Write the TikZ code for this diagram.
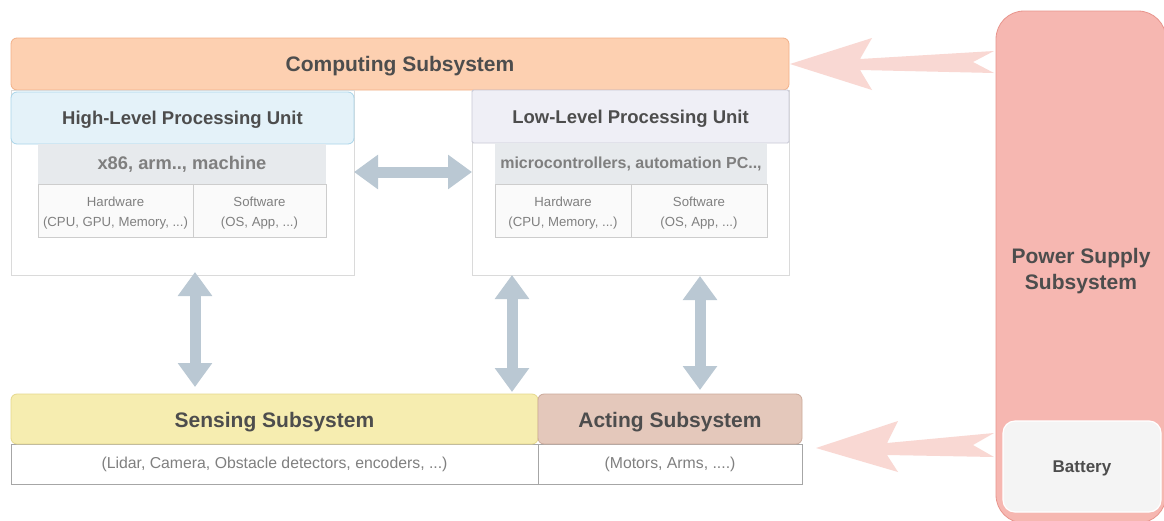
\documentclass[tikz,border=0pt]{standalone}
\usepackage{fontspec}
\setmainfont{Liberation Sans}
\usetikzlibrary{arrows.meta,calc}
\definecolor{compfill}{HTML}{FDD0B1}
\definecolor{compline}{HTML}{F2B088}
\definecolor{hlfill}{HTML}{E4F2F9}
\definecolor{hlline}{HTML}{A9D5EA}
\definecolor{llfill}{HTML}{EFEFF6}
\definecolor{llline}{HTML}{C9C9D6}
\definecolor{bandfill}{HTML}{E7EAED}
\definecolor{cellfill}{HTML}{FAFAFA}
\definecolor{cellline}{HTML}{CDCDCD}
\definecolor{outline}{HTML}{DADADA}
\definecolor{arrowcol}{HTML}{BAC8D3}
\definecolor{sensfill}{HTML}{F6EDB0}
\definecolor{sensline}{HTML}{E5D88C}
\definecolor{actfill}{HTML}{E4C8BB}
\definecolor{actline}{HTML}{CBA99A}
\definecolor{bodyline}{HTML}{A6A6A6}
\definecolor{powfill}{HTML}{F6B7B1}
\definecolor{powline}{HTML}{E8958D}
\definecolor{batfill}{HTML}{F4F4F4}
\definecolor{pinkar}{HTML}{F9D8D3}
\definecolor{titlecol}{HTML}{4D4D4D}
\definecolor{bandtext}{HTML}{7F7F7F}
\definecolor{celltext}{HTML}{808080}
\begin{document}
\begin{tikzpicture}[x=1pt,y=-1pt,
  box/.style={draw, line width=0.8pt, inner sep=0pt, outer sep=0pt, anchor=north west},
  txt/.style={inner sep=0pt, align=center},
  title/.style={txt, text=titlecol, font=\bfseries\fontsize{21}{26}\selectfont},
  unittitle/.style={txt, text=titlecol, font=\bfseries\fontsize{18.5}{22}\selectfont},
  band/.style={box, draw=none, fill=bandfill},
  bandtxt/.style={txt, text=bandtext},
  cell/.style={box, draw=cellline, fill=cellfill},
  celltxt/.style={txt, text=celltext, font=\fontsize{13.2}{20}\selectfont},
  body/.style={box, draw=bodyline, fill=white},
  bodytxt/.style={txt, text=celltext, font=\fontsize{15.8}{18}\selectfont},
  fat/.style={draw=arrowcol, line width=11pt, {Triangle[width=33pt,length=24pt]}-{Triangle[width=33pt,length=24pt]}},
  pinkfill/.style={fill=pinkar}
]
\clip (0,0) rectangle (1164,520);
\fill[white] (0,0) rectangle (1164,520);

% Computing subsystem
\node[box, fill=compfill, draw=compline, rounded corners=6pt, minimum width=778pt, minimum height=52pt] (comp) at (11,38) {};
\node[title, yshift=-2pt] (compt) at (comp.center) {Computing Subsystem};

% High-level unit
\node[box, draw=outline, fill=white, minimum width=343pt, minimum height=185pt] (hlbox) at (11,90) {};
\node[box, fill=hlfill, draw=hlline, rounded corners=6pt, minimum width=343pt, minimum height=52pt] (hlhead) at (11,92) {};
\node[unittitle, yshift=-2pt] (hlheadt) at (hlhead.center) {High-Level Processing Unit};
\node[band, minimum width=288pt, minimum height=40pt] (hlband) at (38,144) {};
\node[bandtxt, font=\bfseries\fontsize{18.3}{22}\selectfont] (hlbandt) at (hlband.center) {x86, arm.., machine};
\node[cell, minimum width=155pt, minimum height=53pt] (hlhw) at (38,184) {};
\node[celltxt, yshift=-3pt] (hlhwt) at (hlhw.center) {Hardware\\(CPU, GPU, Memory, ...)};
\node[cell, minimum width=133pt, minimum height=53pt] (hlsw) at (193,184) {};
\node[celltxt, yshift=-3pt] (hlswt) at (hlsw.center) {Software\\(OS, App, ...)};

% Low-level unit
\node[box, draw=outline, fill=white, minimum width=317pt, minimum height=185pt] (llbox) at (472,90) {};
\node[box, fill=llfill, draw=llline, rounded corners=1.5pt, minimum width=317pt, minimum height=53pt] (llhead) at (472,90) {};
\node[unittitle, yshift=-2pt] (llheadt) at (llhead.center) {Low-Level Processing Unit};
\node[band, minimum width=272pt, minimum height=41pt] (llband) at (495,143) {};
\node[bandtxt, font=\bfseries\fontsize{16}{20}\selectfont, yshift=-0.5pt] (llbandt) at (llband.center) {microcontrollers, automation PC..,};
\node[cell, minimum width=136pt, minimum height=53pt] (llhw) at (495,184) {};
\node[celltxt, yshift=-3pt] (llhwt) at (llhw.center) {Hardware\\(CPU, Memory, ...)};
\node[cell, minimum width=136pt, minimum height=53pt] (llsw) at (631,184) {};
\node[celltxt, yshift=-3pt] (llswt) at (llsw.center) {Software\\(OS, App, ...)};

% Sensing / Acting
\node[body, minimum width=527pt, minimum height=40pt] (sensbody) at (11,444) {};
\node[bodytxt] (sensbodyt) at (sensbody.center) {(Lidar, Camera, Obstacle detectors, encoders, ...)};
\node[box, fill=sensfill, draw=sensline, rounded corners=6pt, minimum width=527pt, minimum height=50pt] (sens) at (11,394) {};
\node[title, yshift=-3.5pt] (senst) at (sens.center) {Sensing Subsystem};
\node[body, minimum width=264pt, minimum height=40pt] (actbody) at (538,444) {};
\node[bodytxt] (actbodyt) at (actbody.center) {(Motors, Arms, ....)};
\node[box, fill=actfill, draw=actline, rounded corners=6pt, minimum width=264pt, minimum height=50pt] (act) at (538,394) {};
\node[title, yshift=-3.5pt] (actt) at (act.center) {Acting Subsystem};

% Power supply
\node[box, fill=powfill, draw=powline, rounded corners=28pt, minimum width=170pt, minimum height=512pt] (power) at (996,11) {};
\node[title, yshift=-4pt] (powert) at (power.center) {Power Supply\\Subsystem};
\node[box, fill=batfill, draw=white, line width=1.2pt, rounded corners=12pt, minimum width=158pt, minimum height=91pt] (battery) at (1003,421) {};
\node[txt, text=titlecol, font=\bfseries\fontsize{17}{20}\selectfont, yshift=-1.5pt] (batteryt) at (battery.center) {Battery};

% Grey double arrows
\coordinate (hy) at (0,172);
\draw[fat] (hlbox.east |- hy) -- (llbox.west |- hy);
\coordinate (v1a) at (195,272);
\coordinate (v1b) at (195,387);
\draw[fat] (v1a) -- (v1b);
\coordinate (v2a) at (512,275);
\coordinate (v2b) at (512,392);
\draw[fat] (v2a) -- (v2b);
\coordinate (v3a) at (700,276);
\coordinate (v3b) at (700,390);
\draw[fat] (v3a) -- (v3b);

% Pink power arrows
\coordinate (tip1) at ([xshift=1pt]comp.east);
\begin{scope}[shift={(tip1)}]
  \fill[pinkfill] (0,0) -- (82,-26) -- (70,-5) -- (204,-13) -- (183,-2) -- (204,9) -- (70,6) -- (82,26) -- cycle;
\end{scope}
\coordinate (tip2) at ([xshift=14pt, yshift=18.5pt]act.east |- battery.center);
\begin{scope}[shift={(tip2)}]
  \fill[pinkfill] (0,0) -- (82,-27) -- (71,-5) -- (178,-15) -- (157,-3) -- (178,9) -- (71,7) -- (82,24) -- cycle;
\end{scope}
\end{tikzpicture}
\end{document}
